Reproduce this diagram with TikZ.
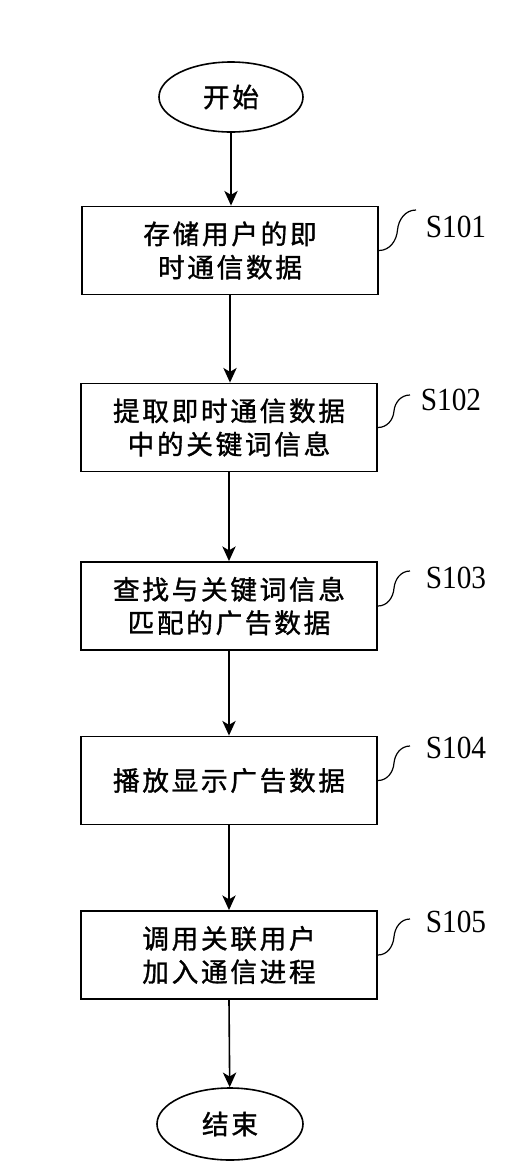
\documentclass[tikz,border=0pt]{standalone}
\usepackage{fontspec}
\setmainfont{Liberation Serif}
\newfontfamily\cjk[LetterSpace=10,FakeBold=1.2]{Noto Sans CJK SC}
\usetikzlibrary{shapes.geometric,arrows.meta,calc}
\begin{document}
\begin{tikzpicture}[x=0.75pt,y=-0.75pt,
  stepbox/.style={draw,line width=1.4pt,minimum width=296*0.75pt,minimum height=88*0.75pt,inner sep=0pt,align=center,
    font=\cjk\fontsize{20}{25}\selectfont},
  term/.style={draw,ellipse,line width=1.2pt,minimum width=144*0.75pt,minimum height=70*0.75pt,inner sep=0pt,
    font=\cjk\fontsize{20}{25}\selectfont},
  flow/.style={line width=1.2pt,-{Stealth[length=11pt,width=10pt,inset=3pt]}},
  tag/.style={font=\fontsize{22}{26}\selectfont,inner sep=0pt,yscale=1.1,transform shape},
  squig/.style={line width=0.9pt}]
\useasboundingbox (0,0) rectangle (526,1165);
\node[term] (start) at (231,97) {开始};
\node[stepbox] (b1) at (230,250.5) {存储用户的即\\时通信数据};
\node[stepbox] (b2) at (229,427.5) {提取即时通信数据\\中的关键词信息};
\node[stepbox] (b3) at (229,606) {查找与关键词信息\\匹配的广告数据};
\node[stepbox] (b4) at (229,780.5) {播放显示广告数据};
\node[stepbox] (b5) at (229,955) {调用关联用户\\加入通信进程};
\node[term,minimum width=146*0.75pt,minimum height=72*0.75pt] (end) at (230,1124) {结束};
\draw[flow] (start) -- (start|-b1.north);
\draw[flow] (b1) -- (b1|-b2.north);
\draw[flow] (b2) -- (b2|-b3.north);
\draw[flow] (b3) -- (b3|-b4.north);
\draw[flow] (b4) -- (b4|-b5.north);
\draw[flow] (b5.south) -- (end);
\node[tag] (t1) at (456,227) {S101};
\node[tag] (t2) at (451,400) {S102};
\node[tag] (t3) at (456,578) {S103};
\node[tag] (t4) at (456,748) {S104};
\node[tag] (t5) at (456,922) {S105};
\coordinate (e1) at (416,210);
\coordinate (e2) at (410,395);
\coordinate (e3) at (410,571);
\coordinate (e4) at (410,746);
\coordinate (e5) at (410,919);
\draw[squig] (b1.east) to[out=0,in=-95] ($(b1.east)!0.5!(e1)$) to[out=85,in=180] (e1);
\draw[squig] (b2.east) to[out=0,in=-95] ($(b2.east)!0.5!(e2)$) to[out=85,in=180] (e2);
\draw[squig] (b3.east) to[out=0,in=-95] ($(b3.east)!0.5!(e3)$) to[out=85,in=180] (e3);
\draw[squig] (b4.east) to[out=0,in=-95] ($(b4.east)!0.5!(e4)$) to[out=85,in=180] (e4);
\draw[squig] (b5.east) to[out=0,in=-95] ($(b5.east)!0.5!(e5)$) to[out=85,in=180] (e5);
\end{tikzpicture}
\end{document}
